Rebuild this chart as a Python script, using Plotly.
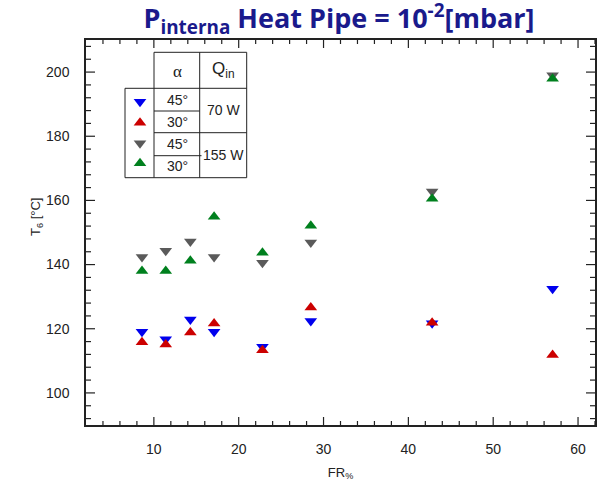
import plotly.graph_objects as go

fr = [8.6, 11.4, 14.3, 17.1, 22.8, 28.5, 42.8, 57.0]
t_45_70 = [119.1, 116.7, 122.9, 119.1, 114.4, 122.4, 121.7, 132.5]
t_30_70 = [115.8, 115.1, 118.8, 121.6, 113.3, 126.6, 121.9, 111.8]
t_45_155 = [142.4, 144.3, 147.2, 142.4, 140.6, 146.9, 162.8, 199.0]
t_30_155 = [138.0, 138.0, 141.2, 154.9, 143.7, 152.1, 160.5, 197.9]

series = [
    ("45°, 70 W", t_45_70, "triangle-down", "#0000ee"),
    ("30°, 70 W", t_30_70, "triangle-up", "#cc0000"),
    ("45°, 155 W", t_45_155, "triangle-down", "#5a5a5a"),
    ("30°, 155 W", t_30_155, "triangle-up", "#00801e"),
]

X_RANGE = [2, 62]
Y_RANGE = [90, 210]
X_MAJOR = [10, 20, 30, 40, 50, 60]
X_MINOR = [v for v in range(4, 63, 2) if v % 10 != 0]
Y_MAJOR = [100, 120, 140, 160, 180, 200]
Y_MINOR = [v for v in range(92, 209, 4) if v % 20 != 0]

W, H = 606, 484
L, R, T, B = 86, 11, 40, 59
pw, ph = W - L - R, H - T - B

def px(x):
    return (x - L) / pw

def py(y):
    return 1 - (y - T) / ph

def dx(x):
    return X_RANGE[0] + (x - L) / pw * (X_RANGE[1] - X_RANGE[0])

def dy(y):
    return Y_RANGE[1] - (y - T) / ph * (Y_RANGE[1] - Y_RANGE[0])

def xfrac(v):
    return (v - X_RANGE[0]) / (X_RANGE[1] - X_RANGE[0])

def yfrac(v):
    return (v - Y_RANGE[0]) / (Y_RANGE[1] - Y_RANGE[0])

fig = go.Figure()
for name, ys, sym, col in series:
    fig.add_trace(go.Scatter(x=fr, y=ys, mode="markers", name=name,
                             marker=dict(symbol=sym, size=11, color=col, line=dict(width=0)),
                             showlegend=False))

leg_y = [101.7, 122.7, 143.3, 163.3]
for (name, ys, sym, col), yy in zip(series, leg_y):
    fig.add_trace(go.Scatter(x=[dx(140)], y=[dy(yy)], mode="markers",
                             marker=dict(symbol=sym, size=11, color=col, line=dict(width=0)),
                             showlegend=False, hoverinfo="skip"))

axcol = "#222222"
tickfont = dict(family="Liberation Sans, Arial", size=14, color="#222")

fig.update_layout(
    template="none",
    width=W, height=H,
    margin=dict(l=L, r=R, t=T, b=B),
    plot_bgcolor="white", paper_bgcolor="white",
    title=dict(text="<b>P<sub>interna</sub> Heat Pipe = 10<sup>-2</sup>[mbar]</b>",
               xref="container", x=339 / W, xanchor="center",
               yref="container", y=1 - 19 / H, yanchor="middle",
               font=dict(family="Open Sans, Lato", size=27, color="#1a1a8c")),
    xaxis=dict(range=X_RANGE, tickvals=X_MAJOR,
               showline=True, linecolor=axcol, linewidth=1.5, mirror=True,
               ticks="", showgrid=False, zeroline=False, tickfont=tickfont,
               ticklabelstandoff=10, automargin=False,
               title=dict(text="FR<sub>%</sub>", font=dict(family="Liberation Sans, Arial", size=13, color="#222"),
                          standoff=12)),
    yaxis=dict(range=Y_RANGE, tickvals=Y_MAJOR,
               showline=True, linecolor=axcol, linewidth=1.5, mirror=True,
               ticks="", showgrid=False, zeroline=False, tickfont=tickfont,
               ticklabelstandoff=12, automargin=False),
)

# ticks on all four sides (plot-area fractions from the axis ranges)
tk = dict(color=axcol, width=1.2)
for vals, ln in ((X_MAJOR, 8), (X_MINOR, 4)):
    for v in vals:
        f = xfrac(v)
        fig.add_shape(type="line", xref="paper", yref="paper", x0=f, x1=f, y0=0, y1=ln / ph, line=tk)
        fig.add_shape(type="line", xref="paper", yref="paper", x0=f, x1=f, y0=1, y1=1 - ln / ph, line=tk)
for vals, ln in ((Y_MAJOR, 9), (Y_MINOR, 5)):
    for v in vals:
        f = yfrac(v)
        fig.add_shape(type="line", xref="paper", yref="paper", y0=f, y1=f, x0=0, x1=ln / pw, line=tk)
        fig.add_shape(type="line", xref="paper", yref="paper", y0=f, y1=f, x0=1, x1=1 - ln / pw, line=tk)

# y-axis title
fig.add_annotation(x=px(36), y=py(217), xref="paper", yref="paper", text="T<sub>6</sub> [°C]",
                   textangle=-90, showarrow=False, xanchor="center", yanchor="middle",
                   font=dict(family="Liberation Sans, Arial", size=13, color="#222"))

# legend table
lc = dict(color="#222", width=1)
segs = [
    (154, 52.3, 246.7, 52.3),
    (154, 52.3, 154, 177.7),
    (199.7, 52.3, 199.7, 177.7),
    (246.7, 52.3, 246.7, 177.7),
    (125, 88.3, 246.7, 88.3),
    (125, 88.3, 125, 177.7),
    (125, 177.7, 246.7, 177.7),
    (154, 111, 199.7, 111),
    (154, 132.7, 246.7, 132.7),
    (154, 155.7, 201.5, 155.7),
]
for x0, y0, x1, y1 in segs:
    fig.add_shape(type="line", xref="paper", yref="paper",
                  x0=px(x0), y0=py(y0), x1=px(x1), y1=py(y1), line=lc)

tf = dict(family="Liberation Sans, Arial", size=14, color="#222")
texts = [
    (177, 71, "α", dict(family="Liberation Serif, Times New Roman", size=17, color="#222")),
    (223, 70, "Q<sub>in</sub>", dict(family="Liberation Sans, Arial", size=17, color="#222")),
    (177, 100, "45°", tf),
    (177, 122, "30°", tf),
    (223, 110, "70 W", tf),
    (177, 144, "45°", tf),
    (177, 166, "30°", tf),
    (223, 155, "155 W", tf),
]
for x, y, s, f in texts:
    fig.add_annotation(x=px(x), y=py(y), xref="paper", yref="paper", text=s,
                       showarrow=False, font=f, xanchor="center", yanchor="middle")

fig.write_html("out.html", config={"displayModeBar": False},
               post_script="document.body.style.margin='0';")
